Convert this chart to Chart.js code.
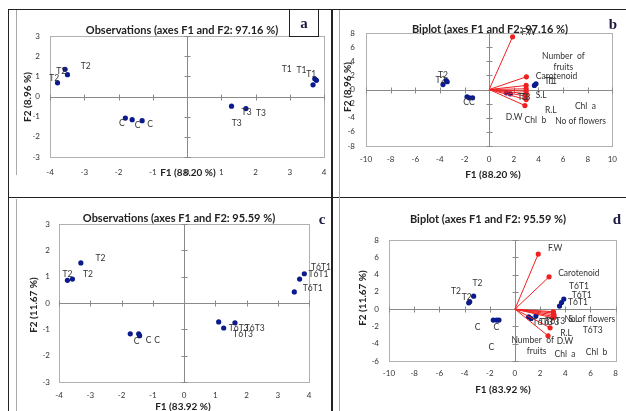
<!DOCTYPE html>
<html>
<head>
<meta charset="utf-8">
<script src="https://cdn.jsdelivr.net/npm/chart.js@4"></script>
<style>
  body { margin:0; background:#fff; width:626px; height:411px; position:relative; overflow:hidden; font-family: Lato, "Liberation Sans", sans-serif; }
  canvas { position:absolute; left:0; top:0; }
  .ln { position:absolute; }
  .t { position:absolute; white-space:nowrap; color:#222; font-weight:bold; transform:translate(-50%,-50%); }
  .ttl { font-size:11px; }
  .ax { font-size:10px; }
  .rot { transform:translate(-50%,-50%) rotate(-90deg); }
  .lt { position:absolute; font-family:"Liberation Serif", "DejaVu Serif", serif; font-weight:bold; font-size:15px; color:#1a1a40; transform:translate(-50%,-50%); }
</style>
</head>
<body>
<!-- panel frames -->
<div class="ln" style="left:8px;top:9px;width:618px;height:0;border-top:1.5px solid #222"></div>
<div class="ln" style="left:8px;top:9px;width:0;height:402px;border-left:1.5px solid #222"></div>
<div class="ln" style="left:331px;top:9px;width:0;height:402px;border-left:2px solid #222"></div>
<div class="ln" style="left:8px;top:197px;width:618px;height:0;border-top:1.5px solid #222"></div>
<div class="ln" style="left:16px;top:10px;width:0;height:165px;border-left:1px solid #aaa"></div>
<div class="ln" style="left:16px;top:199px;width:0;height:212px;border-left:1px solid #aaa"></div>
<div class="ln" style="left:339px;top:10px;width:0;height:401px;border-left:1px solid #aaa"></div>
<div class="ln" style="left:289px;top:9px;width:30px;height:28px;border:1px solid #222;box-sizing:border-box;background:#fff;z-index:2"></div>

<canvas id="ca" width="626" height="411"></canvas>
<canvas id="cb" width="626" height="411"></canvas>
<canvas id="cc" width="626" height="411"></canvas>
<canvas id="cd" width="626" height="411"></canvas>

<div class="t ttl" style="left:182px;top:29px">Observations (axes F1 and F2: 97.16 %)</div>
<div class="t ttl" style="left:490px;top:28px">Biplot (axes F1 and F2: 97.16 %)</div>
<div class="t ttl" style="left:179px;top:217px">Observations (axes F1 and F2: 95.59 %)</div>
<div class="t ttl" style="left:488px;top:218px">Biplot (axes F1 and F2: 95.59 %)</div>

<div class="t ax" style="left:188px;top:172px">F1 (88.20 %)</div>
<div class="t ax rot" style="left:27px;top:97px">F2 (8.96 %)</div>
<div class="t ax" style="left:493px;top:174px">F1 (88.20 %)</div>
<div class="t ax rot" style="left:347px;top:87px">F2 (8.96 %)</div>
<div class="t ax" style="left:183px;top:406px">F1 (83.92 %)</div>
<div class="t ax rot" style="left:33px;top:305px">F2 (11.67 %)</div>
<div class="t ax" style="left:503px;top:389px">F1 (83.92 %)</div>
<div class="t ax rot" style="left:362px;top:298px">F2 (11.67 %)</div>

<div class="lt" style="left:304px;top:23px;z-index:3">a</div>
<div class="lt" style="left:613px;top:24px">b</div>
<div class="lt" style="left:322px;top:219px">c</div>
<div class="lt" style="left:617px;top:219px">d</div>

<script>
// panel a: observations
const obsAx = [-3.78, -3.56, -3.49, -1.80, -1.60, -1.31, 1.30, 1.72, 3.68, 3.73, 3.78];
const obsAy = [0.68, 1.35, 1.08, -1.07, -1.15, -1.20, -0.48, -0.60, 0.58, 0.88, 0.80];
const labA = ['T2', 'T2', 'T2', 'C', 'C', 'C', 'T3', 'T3', 'T3', 'T1', 'T1', 'T1'];
const labAx = [-3.88, -3.67, -2.96, -1.90, -1.44, -1.08, 1.74, 2.16, 1.45, 2.91, 3.34, 3.63];
const labAy = [0.90, 1.25, 1.50, -1.32, -1.45, -1.40, -0.78, -0.85, -1.35, 1.35, 1.30, 1.10];

// panel b: biplot
const obsBx = [-3.75, -3.49, -3.41, -1.80, -1.62, -1.35, 1.40, 1.72, 3.67, 3.80];
const obsBy = [0.70, 1.27, 1.10, -1.03, -1.18, -1.18, -0.47, -0.61, 0.57, 0.80];
const varBx = [1.90, 3.02, 3.00, 3.00, 3.00, 3.00, 3.00, 3.00, 2.90];
const varBy = [7.46, 1.80, 0.57, 0.10, -0.24, -0.60, -0.95, -1.42, -2.27];
const labB = ['F.W', 'Number  of', 'fruits', 'Carotenoid', 'S.L', 'R.L', 'Chl  a', 'D.W', 'Chl  b', 'No of flowers',
              'T2', 'T2', 'CC', 'T3', 'T3', 'T1', 'T1'];
const labBx = [3.2, 6.02, 6.02, 5.47, 4.22, 5.0, 7.81, 2.03, 3.75, 7.42, -3.75, -3.95, -1.64, 2.70, 2.95, 4.90, 5.10];
const labBy = [8.07, 4.67, 3.12, 1.84, -0.85, -2.97, -2.41, -3.97, -4.39, -4.53, 2.0, 1.3, -1.84, -1.13, -1.13, 1.13, 1.13];

// panel c: observations
const obsCx = [-3.73, -3.57, -3.30, -1.72, -1.45, -1.42, 1.11, 1.27, 1.63, 3.53, 3.70, 3.85];
const obsCy = [0.86, 0.91, 1.52, -1.17, -1.17, -1.24, -0.72, -0.95, -0.75, 0.42, 0.91, 1.11];
const labC = ['T2', 'T2', 'T2', 'C', 'C', 'C', 'T6T3', 'T6T3', 'T6T3', 'T6T1', 'T6T1', 'T6T1'];
const labCx = [-3.73, -3.07, -2.67, -1.52, -1.13, -0.86, 1.75, 2.26, 1.89, 4.38, 4.30, 4.12];
const labCy = [1.08, 1.08, 1.71, -1.46, -1.40, -1.40, -0.95, -0.95, -1.18, 1.34, 1.08, 0.57];

// panel d: biplot
const obsDx = [-3.67, -3.59, -3.28, -1.72, -1.46, -1.27, 1.09, 1.28, 1.67, 3.54, 3.70, 3.88];
const obsDy = [0.73, 0.85, 1.50, -1.27, -1.27, -1.27, -0.89, -1.08, -0.77, 0.35, 0.77, 1.16];
const varDx = [1.85, 2.71, 3.05, 3.05, 3.10, 3.10, 3.00, 2.79, 2.63];
const varDy = [6.37, 3.74, -0.30, -0.45, -0.65, -0.85, -1.00, -2.16, -3.09];
const labD = ['F.W', 'Carotenoid', 'T6T1', 'T6T1', 'T6T1', 'S.L', 'No of flowers', 'T6T3', 'T6T3', 'T6T3', 'T6T3',
              'R.L', 'D.W', 'Number  of', 'fruits', 'Chl  a', 'Chl  b', 'T2', 'T2', 'T2', 'C', 'C', 'C'];
const labDx = [3.2, 5.08, 5.08, 5.31, 5.0, 4.69, 5.95, 2.19, 2.73, 3.2, 6.17, 4.06, 3.98, 1.41, 1.72, 3.98, 6.48, -4.69, -2.97, -3.83, -2.97, -1.48, -1.88];
const labDy = [7.06, 4.17, 2.66, 1.62, 0.81, -1.16, -1.16, -1.5, -1.5, -1.39, -2.43, -2.78, -3.7, -3.59, -4.86, -5.2, -4.98, 2.08, 3.0, 1.39, -2.08, -2.08, -4.4];

const BLUE = '#0b1a8c';
const RED = '#f02020';

const decoPlugin = {
    id: 'deco',
    beforeDatasetsDraw(chart) {
        const ctx = chart.ctx, a = chart.chartArea;
        const xs = chart.scales.x, ys = chart.scales.y;
        ctx.save();
        ctx.strokeStyle = '#b0b0b0';
        ctx.lineWidth = 1;
        ctx.strokeRect(Math.round(a.left) + 0.5, Math.round(a.top) + 0.5, Math.round(a.right - a.left), Math.round(a.bottom - a.top));
        const x0 = Math.round(xs.getPixelForValue(0)) + 0.5;
        const y0 = Math.round(ys.getPixelForValue(0)) + 0.5;
        ctx.strokeStyle = '#8a8a8a';
        ctx.beginPath();
        ctx.moveTo(a.left, y0); ctx.lineTo(a.right, y0);
        ctx.moveTo(x0, a.top); ctx.lineTo(x0, a.bottom);
        xs.ticks.forEach(t => {
            const px = Math.round(xs.getPixelForValue(t.value)) + 0.5;
            ctx.moveTo(px, y0 - 3); ctx.lineTo(px, y0 + 3);
        });
        ys.ticks.forEach(t => {
            const py = Math.round(ys.getPixelForValue(t.value)) + 0.5;
            ctx.moveTo(x0 - 3, py); ctx.lineTo(x0 + 3, py);
        });
        ctx.stroke();
        ctx.restore();
    },
    afterDatasetsDraw(chart, args, opts) {
        const ctx = chart.ctx;
        const xs = chart.scales.x, ys = chart.scales.y;
        ctx.save();
        ctx.font = '8.5px Lato, "Liberation Sans", sans-serif';
        ctx.fillStyle = '#333';
        ctx.textAlign = 'center';
        ctx.textBaseline = 'middle';
        (opts.text || []).forEach((s, i) => {
            ctx.fillText(s, xs.getPixelForValue(opts.tx[i]), ys.getPixelForValue(opts.ty[i]));
        });
        ctx.restore();
    }
};

function makeChart(id, plot, xr, yr, step, datasets, text, tx, ty, xpad, ypad) {
    const YW = 30, XH = 20;
    new Chart(document.getElementById(id), {
        type: 'scatter',
        data: { datasets: datasets },
        plugins: [decoPlugin],
        options: {
            responsive: false,
            animation: false,
            layout: { padding: { left: plot[0] - YW, right: 626 - plot[1], top: plot[2], bottom: 411 - plot[3] - XH } },
            plugins: {
                legend: { display: false },
                tooltip: { enabled: false },
                deco: { text: text, tx: tx, ty: ty }
            },
            scales: {
                x: {
                    type: 'linear', min: xr[0], max: xr[1],
                    afterFit: s => { s.height = XH; },
                    grid: { display: false, drawTicks: false },
                    border: { display: false },
                    ticks: { stepSize: step, padding: xpad, color: '#333', font: { size: 8, family: 'Lato' } }
                },
                y: {
                    type: 'linear', min: yr[0], max: yr[1],
                    afterFit: s => { s.width = YW; },
                    grid: { display: false, drawTicks: false },
                    border: { display: false },
                    ticks: { stepSize: step, padding: ypad, color: '#333', font: { size: 8, family: 'Lato' } }
                }
            }
        }
    });
}

function pts(xs, ys) { return xs.map((x, i) => ({ x: x, y: ys[i] })); }

function obsSet(xs, ys) {
    return { data: pts(xs, ys), backgroundColor: BLUE, borderColor: BLUE, pointRadius: 2.6, pointBorderWidth: 0 };
}

function vecSets(xs, ys) {
    return xs.map((x, i) => ({
        data: [{ x: 0, y: 0 }, { x: x, y: ys[i] }],
        showLine: true, borderColor: RED, borderWidth: 1,
        backgroundColor: RED, pointRadius: [0, 2.6], pointBorderWidth: 0
    }));
}

makeChart('ca', [50, 324, 36, 157], [-4, 4], [-3, 3], 1,
    [obsSet(obsAx, obsAy)], labA, labAx, labAy, 11, 10);
makeChart('cb', [366, 622, 33, 146], [-10, 10], [-8, 8], 2,
    vecSets(varBx, varBy).concat([obsSet(obsBx, obsBy)]), labB, labBx, labBy, 9, 11);
makeChart('cc', [59, 309, 224, 382], [-4, 4], [-3, 3], 1,
    [obsSet(obsCx, obsCy)], labC, labCx, labCy, 9, 9);
makeChart('cd', [389, 619, 240, 361], [-10, 8], [-6, 8], 2,
    vecSets(varDx, varDy).concat([obsSet(obsDx, obsDy)]), labD, labDx, labDy, 8, 10);
</script>
</body>
</html>
